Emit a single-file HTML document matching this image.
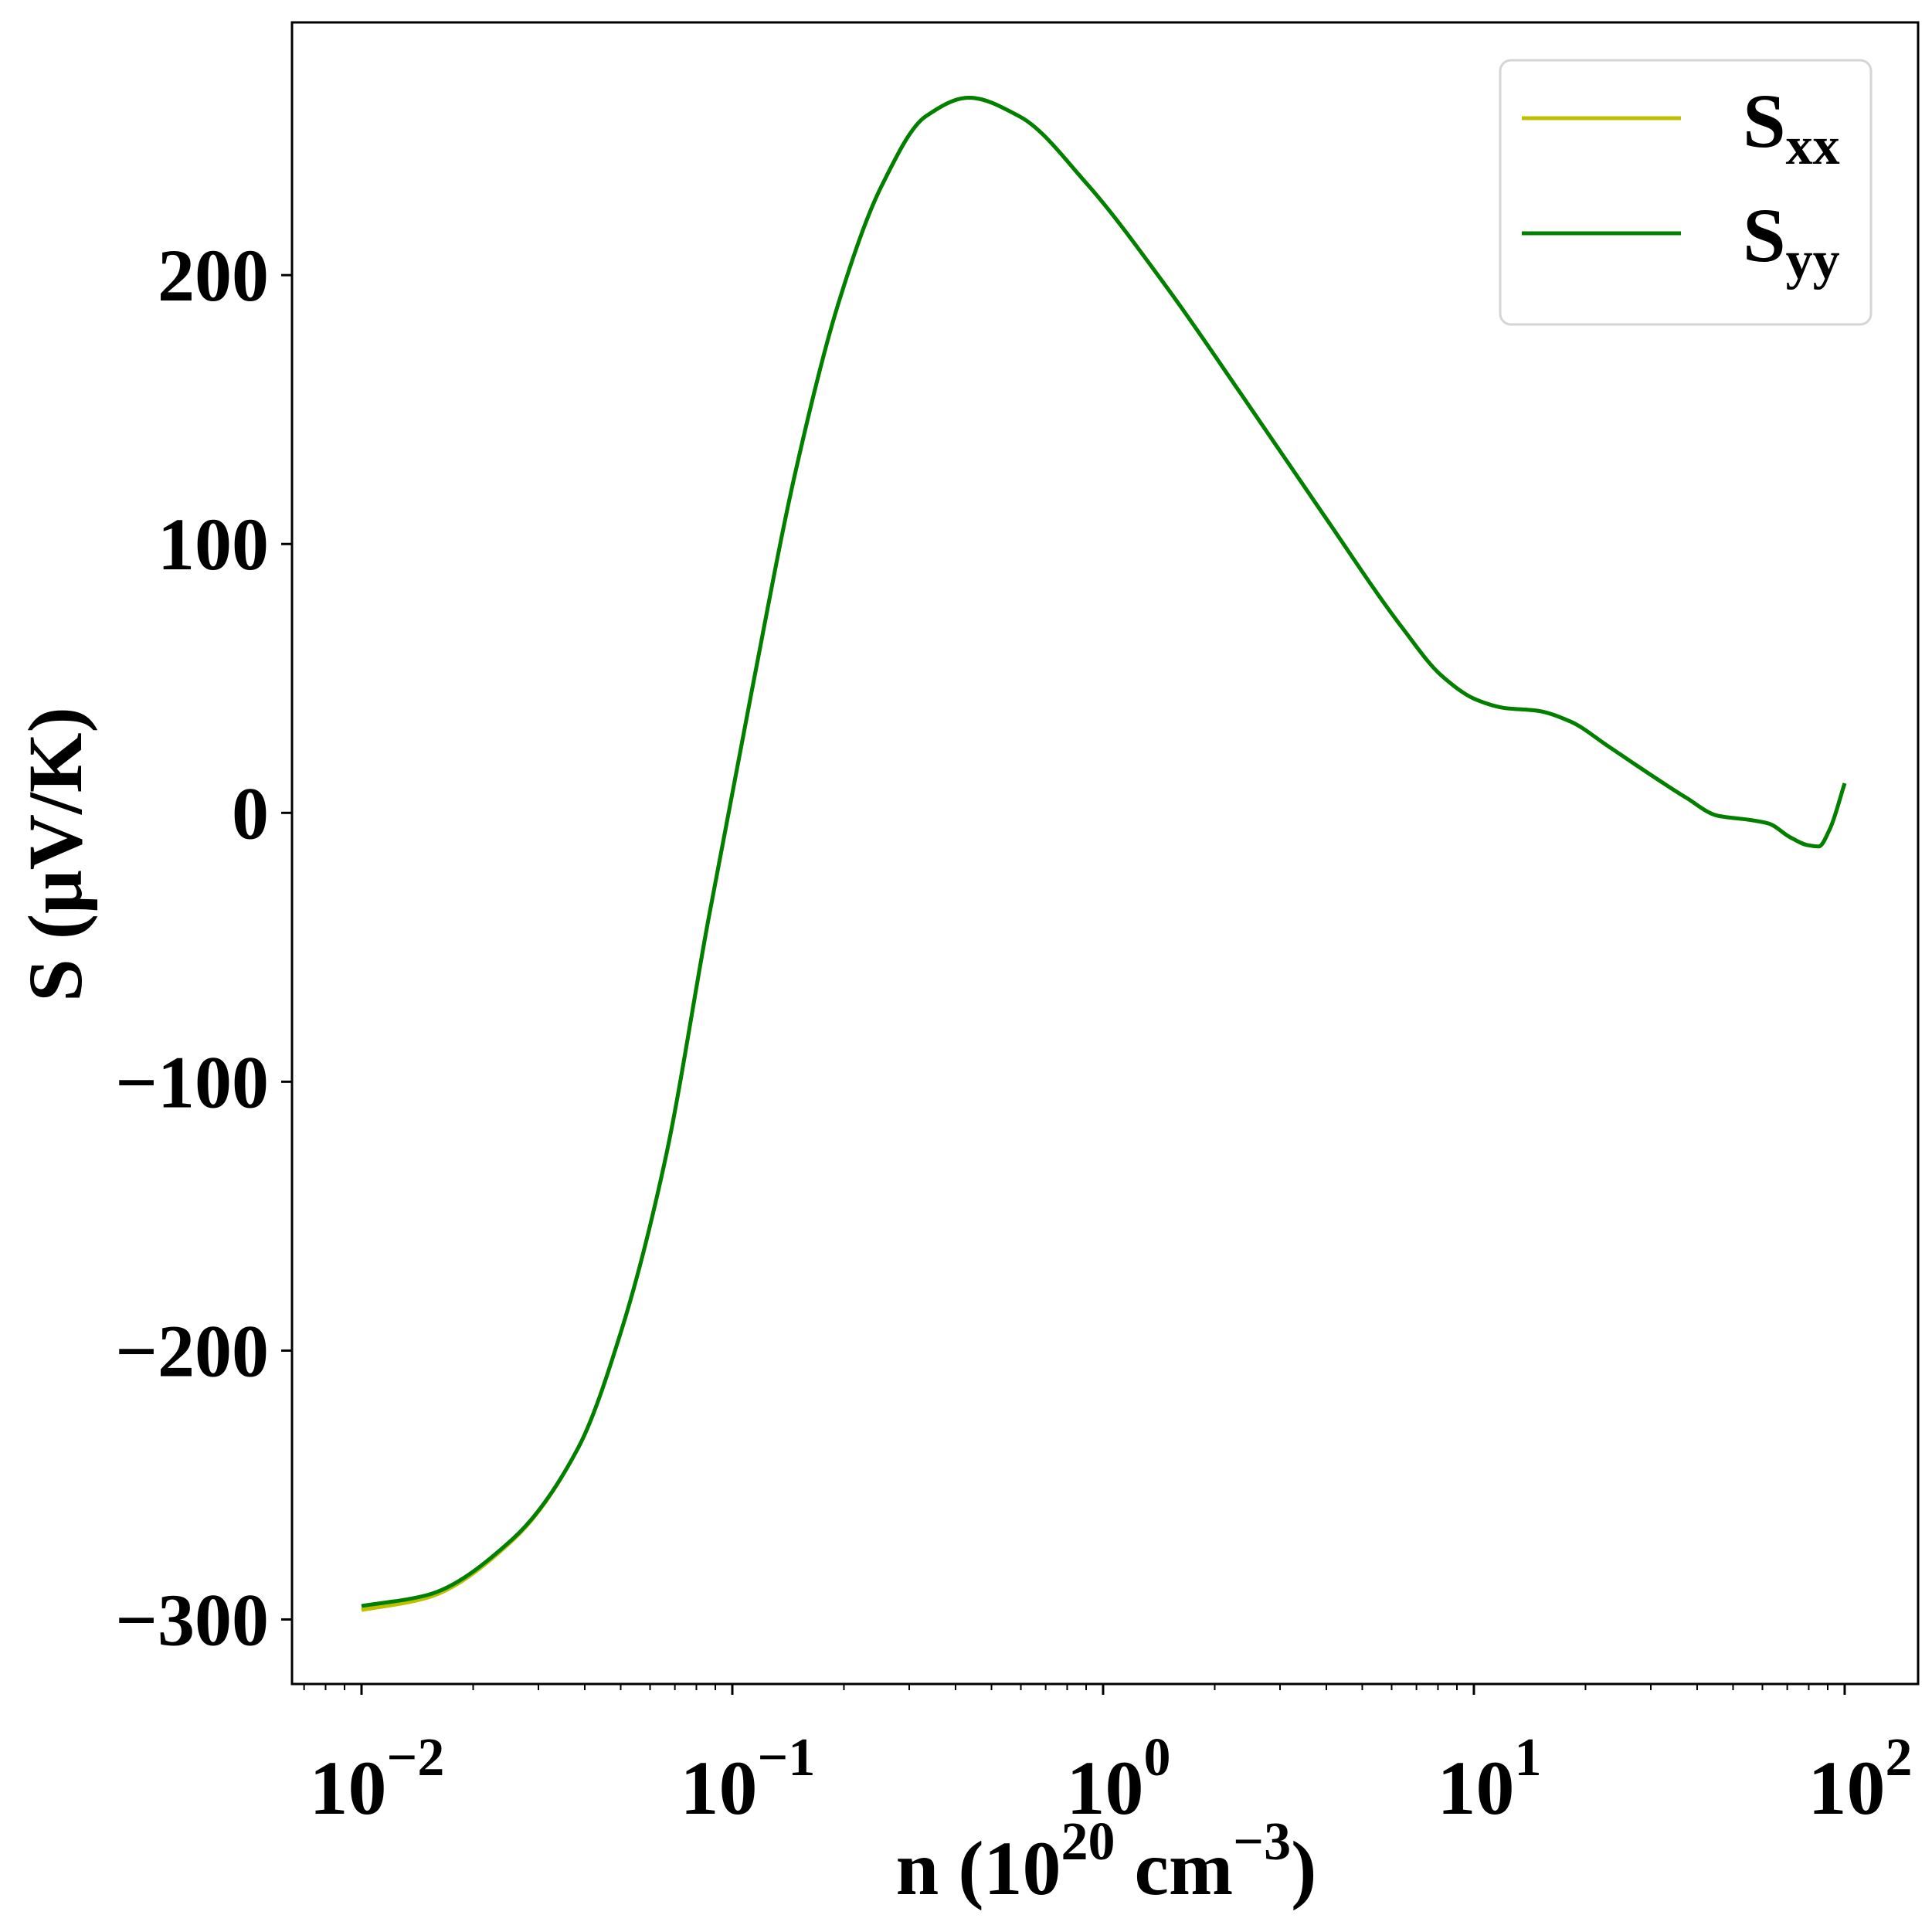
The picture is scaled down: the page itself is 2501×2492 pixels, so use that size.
<!DOCTYPE html>
<html><head><meta charset="utf-8"><style>
html,body{margin:0;padding:0;background:#fff;}
svg{display:block;font-family:"Liberation Serif","Times New Roman",serif;font-weight:bold;}
</style></head><body>
<svg id="chart" width="2501" height="2492" viewBox="0 0 2501 2492" xmlns="http://www.w3.org/2000/svg">
<rect x="0" y="0" width="2501" height="2492" fill="#fff"/>
<g id="plot"></g>
<g id="axes"></g>
<text x="1432" y="2452" font-size="100" text-anchor="middle">n (10<tspan dy="-45" font-size="70">20</tspan><tspan dy="45"> cm</tspan><tspan dy="-45" font-size="70">−3</tspan><tspan dy="45">)</tspan></text>
<text transform="translate(105,1106) rotate(-90)" font-size="100" text-anchor="middle">S (μV/K)</text>
<g>
<rect x="1942" y="78" width="480" height="342" rx="14" fill="#fff" stroke="#d5d5d5" stroke-width="3"/>
<line x1="1970" y1="153" x2="2176" y2="153" stroke="#bfbf00" stroke-width="5"/>
<text x="2256" y="190" font-size="100">S<tspan dy="22" font-size="70">xx</tspan></text>
<line x1="1970" y1="302" x2="2176" y2="302" stroke="#008000" stroke-width="5"/>
<text x="2256" y="338" font-size="100">S<tspan dy="22" font-size="70">yy</tspan></text>
</g>
</svg>
<script>
const logN = [-2.0,-1.825,-1.592,-1.415,-1.298,-1.181,-1.065,-0.948,-0.831,-0.715,-0.598,-0.479,-0.362,-0.225,-0.044,0.169,0.381,0.594,0.806,0.913,1.008,1.083,1.17,1.26,1.36,1.435,1.573,1.656,1.748,1.796,1.852,1.9,1.93,1.96,2.0];
const sYY = [-295,-291,-270,-236,-192,-129,-40,45,126,189,233,259,266,259,234,196,154,111,69,51,42,39,38,34,25,18,5.6,-1,-2.7,-4,-9,-12,-12.5,-6,11];
const sXX = [-296.5,-292,-270.5,-236,-192,-129,-40,45,126,189,233,259,266,259,234,196,154,111,69,51,42,39,38,34,25,18,5.6,-1,-2.7,-4,-9,-12,-12.5,-6,11];
const yTicks = [-300,-200,-100,0,100,200];
const xDecades = [-2,-1,0,1,2];

const L=378,R=2483,T=29,B=2180;
const xMin=-2.1875,xMax=2.198,yMin=-324,yMax=294;
const NS="http://www.w3.org/2000/svg";
function X(l){return L+(l-xMin)/(xMax-xMin)*(R-L);}
function Y(v){return B-(v-yMin)/(yMax-yMin)*(B-T);}
function el(t,a,p){const e=document.createElementNS(NS,t);for(const k in a)e.setAttribute(k,a[k]);p.appendChild(e);return e;}
const plot=document.getElementById('plot'),axes=document.getElementById('axes');

// monotone cubic (Fritsch-Carlson) through data points
function pathFor(xs,ys){
  const P=xs.map((l,i)=>[X(l),Y(ys[i])]);
  const n=P.length,dx=[],sl=[],m=[];
  for(let i=0;i<n-1;i++){dx.push(P[i+1][0]-P[i][0]);sl.push((P[i+1][1]-P[i][1])/dx[i]);}
  m[0]=sl[0];m[n-1]=sl[n-2];
  for(let i=1;i<n-1;i++){
    if(sl[i-1]*sl[i]<=0)m[i]=0;
    else{const w1=2*dx[i]+dx[i-1],w2=dx[i]+2*dx[i-1];m[i]=(w1+w2)/(w1/sl[i-1]+w2/sl[i]);}
  }
  let d="M"+P[0][0]+","+P[0][1];
  for(let i=0;i<n-1;i++){
    const h=dx[i]/3;
    d+=" C"+(P[i][0]+h)+","+(P[i][1]+m[i]*h)+" "+(P[i+1][0]-h)+","+(P[i+1][1]-m[i+1]*h)+" "+P[i+1][0]+","+P[i+1][1];
  }
  return d;
}
const lx=el('path',{d:pathFor(logN,sXX),fill:'none',stroke:'#bfbf00','stroke-width':5},plot);


const ly=el('path',{d:pathFor(logN,sYY),fill:'none',stroke:'#008000','stroke-width':5},plot);



const fr=el('rect',{x:L,y:T,width:R-L,height:B-T,fill:'none',stroke:'#000','stroke-width':3},axes);



yTicks.forEach(v=>{
  const t=el('line',{x1:L-14,x2:L,y1:Y(v),y2:Y(v),stroke:'#000','stroke-width':3},axes);
  
  
  const tx=el('text',{x:L-30,y:Y(v)+33,'font-size':96,'text-anchor':'end'},axes);
  tx.textContent=(v<0?"−":"")+Math.abs(v);
  
  
});
for(let d=-3;d<=2;d++){
  for(let m=1;m<=9;m++){
    const l=d+Math.log10(m);
    if(l<xMin||l>xMax)continue;
    const major=m===1;
    const t=el('line',{x1:X(l),x2:X(l),y1:B,y2:B+(major?14:8),stroke:'#000','stroke-width':major?3:2},axes);
    
    
  }
}
xDecades.forEach(d=>{
  const tx=el('text',{x:X(d)+20,y:2348,'font-size':100,'text-anchor':'middle'},axes);
  
  
  const a=document.createElementNS(NS,'tspan');a.textContent="10";tx.appendChild(a);
  const b=document.createElementNS(NS,'tspan');b.setAttribute('dy','-50');b.setAttribute('font-size','70');
  b.textContent=(d<0?"−":"")+Math.abs(d);tx.appendChild(b);
});
</script>
</body></html>
